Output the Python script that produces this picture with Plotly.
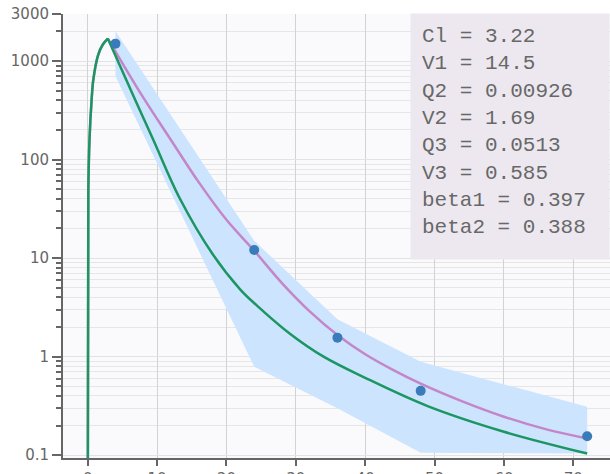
import plotly.graph_objects as go

# ---- data ----
rise_t = [0, 0.09, 0.26, 0.58, 0.8, 1.5, 2.2, 2.9]
rise_c = [0.01, 47, 160, 420, 640, 1150, 1480, 1690]

ipred_t = [2.9, 8, 12, 16, 20, 24, 28, 32, 36, 40, 44, 48, 54, 60, 66, 72]
ipred_c = [1690, 427, 158, 59, 24.5, 11.9, 5.58, 2.88, 1.66, 1.06, 0.736, 0.533, 0.352, 0.246, 0.184, 0.148]

pred_t = [2.9, 7, 9.5, 13.3, 18, 22, 24.4, 29.2, 34, 40, 49, 60, 72]
pred_c = [1690, 382, 156, 40, 11, 4.8, 3.3, 1.7, 1.0, 0.61, 0.315, 0.173, 0.104]

band_t = [4, 24, 36, 48, 72]
band_hi = [2000, 15, 2.4, 0.89, 0.31]
band_lo = [700, 0.79, 0.3, 0.106, 0.104]

obs_t = [4, 24, 36, 48, 72]
obs_c = [1500, 12.1, 1.56, 0.45, 0.156]

param_names = ["Cl", "V1", "Q2", "V2", "Q3", "V3", "beta1", "beta2"]
param_values = ["3.22", "14.5", "0.00926", "1.69", "0.0513", "0.585", "0.397", "0.388"]

x_ticks = [0, 10, 20, 30, 40, 50, 60, 70]
y_ticks = [0.1, 1, 10, 100, 1000, 3000]
y_labels = ["0.1", "1", "10", "100", "1000", "3000"]
y_minor = [k * 10 ** e for e in range(-1, 4) for k in range(2, 10) if k * 10 ** e < 3000]

PINK = "rgb(196,134,201)"
GREEN = "rgb(27,150,98)"
BAND = "rgb(204,228,254)"
DOT = "rgb(58,123,186)"

fig = go.Figure()
fig.add_trace(go.Scatter(
    x=band_t + band_t[::-1], y=band_hi + band_lo[::-1],
    fill="toself", fillcolor=BAND, line=dict(width=0), mode="lines", hoverinfo="skip"))
fig.add_trace(go.Scatter(x=rise_t, y=rise_c, mode="lines",
                         line=dict(color=PINK, width=2.5, shape="spline", smoothing=0.8)))
fig.add_trace(go.Scatter(x=ipred_t, y=ipred_c, mode="lines",
                         line=dict(color=PINK, width=2.5, shape="spline", smoothing=1.0)))
fig.add_trace(go.Scatter(x=rise_t, y=rise_c, mode="lines",
                         line=dict(color=GREEN, width=2.5, shape="spline", smoothing=0.8)))
fig.add_trace(go.Scatter(x=pred_t, y=pred_c, mode="lines",
                         line=dict(color=GREEN, width=2.5, shape="spline", smoothing=1.0)))
fig.add_trace(go.Scatter(x=obs_t, y=obs_c, mode="markers",
                         marker=dict(color=DOT, size=10)))

text = "<br>".join(f"{n} = {v}" for n, v in zip(param_names, param_values))
fig.add_annotation(xref="paper", yref="paper", x=1, y=1, xanchor="right", yanchor="top",
                   text=text, align="left", valign="top", showarrow=False,
                   bgcolor="rgb(237,232,240)", borderpad=11, width=176, height=223,
                   yshift=1,
                   font=dict(family="Liberation Mono", size=21, color="#686868"))

tickfont = dict(family="DejaVu Sans", size=15, color="#666")
fig.update_layout(
    width=610, height=474,
    margin=dict(l=63, r=0, t=14, b=16, pad=0),
    paper_bgcolor="white", plot_bgcolor="#fafafc",
    showlegend=False,
    xaxis=dict(range=[-3.56, 75.29], tickmode="array", tickvals=x_ticks,
               showline=True, linecolor="#666", linewidth=2, mirror=False,
               ticks="outside", ticklen=6, tickcolor="#666", tickwidth=1.5,
               showgrid=True, gridcolor="#d2d2d2", gridwidth=1, zeroline=False,
               tickfont=tickfont, automargin=False),
    yaxis=dict(type="log", range=[-1.028, 3.477], tickmode="array",
               tickvals=y_ticks, ticktext=y_labels,
               showline=True, linecolor="#666", linewidth=2,
               ticks="outside", ticklen=9, tickcolor="#666", tickwidth=1.5,
               showgrid=True, gridcolor="#e3e3e3", gridwidth=1, zeroline=False,
               tickfont=tickfont, automargin=False,
               minor=dict(tickmode="array", tickvals=y_minor, ticks="outside",
                          ticklen=5, tickcolor="#666", tickwidth=1.5,
                          showgrid=True, gridcolor="#e6e6e6", gridwidth=1)),
)

fig.write_html("out.html", config={"displayModeBar": False},
               post_script="document.body.style.margin='0';")
